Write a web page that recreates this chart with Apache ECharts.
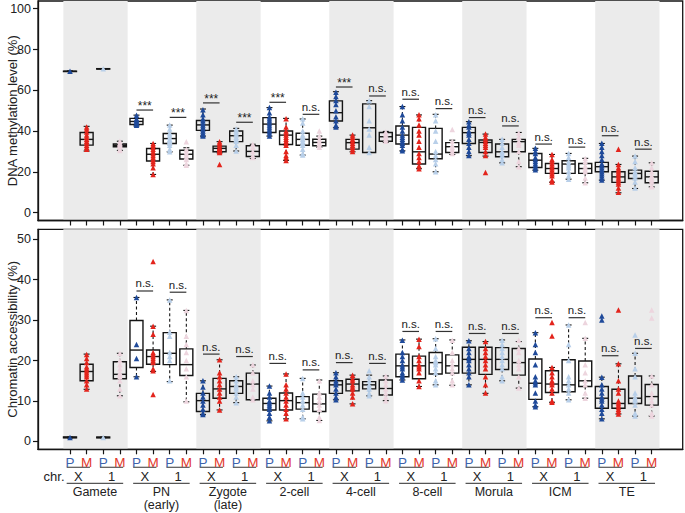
<!DOCTYPE html>
<html><head><meta charset="utf-8">
<script src="https://cdn.jsdelivr.net/npm/echarts@6/dist/echarts.min.js"></script>
<style>html,body{margin:0;padding:0;background:#fff}#c{width:685px;height:513px}</style>
</head><body><div id="c"></div>
<script>
// ---------------- DATA ----------------
const stages = ['Gamete', 'PN\n(early)', 'Zygote\n(late)', '2-cell', '4-cell', '8-cell', 'Morula', 'ICM', 'TE'];
const chromosomes = ['X', '1'];
const parents = ['P', 'M'];
const shadedStages = [0, 2, 4, 6, 8];
const methTicks = [0, 20, 40, 60, 80, 100];
const accTicks = [0, 10, 20, 30, 40, 50];

// box stats [min, Q1, median, Q3, max]; order: stage -> chr (X, 1) -> parent (P, M)
const methBox = [
  [69.2, 69.2, 69.3, 69.4, 69.5], [30.2, 33.1, 35.9, 39.3, 42.3], [70.4, 70.4, 70.5, 70.6, 70.6], [30.5, 32.3, 33.0, 33.6, 35.0],
  [42.5, 43.2, 44.7, 46.2, 47.8], [18.7, 25.3, 28.6, 31.4, 33.9], [29.8, 33.9, 36.3, 38.8, 42.9], [23.2, 26.3, 28.6, 30.6, 31.8],
  [37.5, 40.3, 43.0, 45.2, 50.8], [29.3, 29.8, 31.5, 32.6, 34.8], [30.2, 34.8, 37.7, 40.0, 41.3], [26.5, 27.5, 30.0, 32.8, 33.5],
  [37.5, 39.3, 43.4, 46.6, 51.5], [25.6, 33.4, 38.0, 40.0, 46.2], [28.2, 33.0, 35.9, 38.9, 45.9], [32.0, 32.8, 34.4, 36.0, 37.5],
  [41.6, 44.9, 49.0, 54.8, 59.3], [29.8, 31.1, 34.3, 35.9, 38.0], [29.5, 29.5, 41.6, 53.3, 54.9], [34.5, 35.0, 37.2, 39.3, 39.8],
  [30.3, 33.6, 38.0, 42.5, 52.0], [21.5, 23.8, 29.8, 41.8, 47.9], [20.0, 26.4, 28.7, 41.3, 48.2], [28.5, 29.5, 32.3, 34.3, 35.5],
  [27.9, 33.9, 39.2, 41.8, 44.6], [27.7, 29.5, 34.4, 35.6, 38.5], [24.4, 27.4, 29.8, 33.6, 35.9], [22.5, 29.8, 34.8, 35.9, 39.3],
  [20.8, 22.1, 25.7, 29.0, 31.5], [14.9, 19.2, 21.6, 24.1, 28.5], [16.4, 19.2, 23.8, 25.4, 29.0], [14.6, 19.2, 21.6, 24.1, 26.6],
  [15.9, 20.0, 22.5, 24.6, 33.9], [9.7, 14.8, 17.5, 20.0, 23.6], [11.8, 16.7, 19.2, 20.8, 27.7], [12.6, 14.6, 17.5, 20.3, 24.4]
];
const methPts = [
  [69.3], [42, 41, 39.5, 38, 37, 36, 35, 34, 33, 32, 31], [70.5], [35, 34, 33.5, 33, 32.5, 31, 30.5],
  [47.8, 46, 45.5, 45, 44.5, 44, 43.5, 42.8], [33.9, 33, 32, 31, 30, 29, 28, 27, 26, 25, 24, 22, 18.7], [42.9, 41, 39, 38, 37, 36, 35, 34, 33, 31, 29.8], [34.7, 31, 30, 29, 28, 27, 26, 24, 23.2],
  [50.5, 48, 46, 45, 44, 43, 42, 41, 40, 39, 38, 37.5], [34.8, 34, 33, 32, 31.5, 31, 30.5, 30, 29.5, 23.6], [41, 40, 39, 38, 37, 36, 35, 33, 30.2], [33.5, 32, 30, 28, 27],
  [51.5, 49, 47, 46, 45, 44, 43, 42, 41, 40, 39, 37.5], [46, 42, 40, 39, 38, 37, 36, 35, 34, 33, 30, 28, 27, 25.6], [46, 44, 40, 38, 37, 36, 35, 34, 33, 31, 29, 28.2], [40, 37.5, 36, 35, 34, 33, 32],
  [59, 57, 55, 53, 50, 47, 45, 43, 42], [38, 37, 36, 35, 34, 33, 32, 31, 30], [54.9, 52, 45, 41, 38, 32, 29.5], [39.5, 38.5, 37.5, 37, 36, 35],
  [52, 48, 45, 42, 40, 38, 37, 36, 35, 34, 33, 31, 30.3], [48, 46, 43, 40, 38, 35, 32, 29, 27, 25, 23, 21.5], [48, 45, 40, 35, 30, 28, 26, 24, 20], [40.8, 35, 33, 32, 31, 30, 29],
  [44.6, 43, 42, 40, 39, 38, 36, 34, 32, 30, 28], [38.5, 37, 36, 35, 34, 33, 32, 30, 28, 19.7], [36, 34, 32, 30, 29, 28, 26, 24.4], [39, 37, 35, 34, 33, 30, 25, 22.5],
  [31.5, 30, 29, 27, 26, 25, 24, 23, 22, 21], [28.5, 26, 25, 24, 23, 22, 21, 20, 19, 18, 16, 15], [29, 27, 25, 24, 23, 22, 20, 18, 16.4], [26.5, 25, 23, 22, 21, 20, 17, 14.6],
  [34, 32, 30, 28, 26, 24, 23, 22, 21, 20, 19, 18, 17, 16], [31, 23.6, 22, 21, 20, 19, 18, 17, 16, 15, 14, 12, 10], [27.7, 25, 22, 20, 19, 18, 17, 15, 12], [24.4, 22, 20, 18, 17, 16, 15, 13, 12.6]
];
// significance per stage x chr: label and bar height
const methSigLabels = ['', '', '***', '***', '***', '***', '***', 'n.s.', '***', 'n.s.', 'n.s.', 'n.s.', 'n.s.', 'n.s.', 'n.s.', 'n.s.', 'n.s.', 'n.s.'];
const methSigY = [0, 0, 50.3, 46.7, 53.8, 44.3, 54.1, 48.2, 61.6, 57.2, 55.6, 51.0, 46.6, 42.5, 33.6, 32.1, 37.7, 31.1];

const accBox = [
  [0.9, 0.9, 1.0, 1.1, 1.1], [12.9, 15.0, 17.3, 19.1, 21.6], [0.9, 0.9, 1.0, 1.1, 1.1], [11.3, 15.5, 16.6, 19.7, 21.8],
  [16.0, 18.3, 22.6, 29.9, 35.6], [17.3, 19.1, 21.0, 22.6, 28.5], [14.8, 19.0, 21.8, 26.9, 35.0], [9.8, 16.3, 19.0, 22.9, 32.4],
  [6.7, 7.4, 10.1, 11.9, 15.0], [7.8, 10.7, 13.0, 15.6, 20.2], [9.6, 11.9, 13.6, 15.0, 16.0], [10.3, 10.3, 14.2, 16.9, 18.9],
  [5.1, 7.8, 9.4, 10.7, 13.7], [5.6, 7.8, 10.1, 12.0, 16.7], [5.6, 8.0, 9.6, 11.1, 15.6], [5.2, 7.4, 9.3, 11.7, 15.2],
  [10.3, 11.9, 14.0, 15.0, 17.0], [9.3, 12.5, 14.2, 15.4, 16.4], [11.3, 13.0, 14.0, 14.8, 16.4], [10.1, 11.5, 13.1, 15.2, 16.2],
  [15.2, 16.0, 18.7, 21.6, 25.1], [13.6, 15.5, 18.7, 21.1, 25.3], [14.0, 16.7, 19.5, 22.0, 25.4], [13.9, 16.9, 18.7, 21.4, 25.1],
  [14.0, 16.9, 20.3, 23.3, 24.9], [11.9, 16.6, 20.3, 23.3, 24.7], [15.0, 17.8, 20.3, 23.2, 25.1], [13.2, 16.4, 19.5, 23.0, 24.7],
  [8.6, 10.4, 14.4, 20.4, 26.9], [9.7, 12.1, 14.2, 17.5, 18.3], [10.3, 12.3, 14.0, 20.2, 28.8], [10.7, 13.6, 15.0, 19.9, 25.5],
  [5.6, 8.2, 10.7, 13.6, 15.9], [6.8, 8.2, 9.4, 12.9, 19.2], [6.3, 9.4, 10.7, 16.2, 21.8], [6.3, 9.0, 11.1, 14.1, 16.2]
];
const accPts = [
  [1.0], [21.5, 20.5, 19.5, 18.5, 18, 17.5, 17, 16.5, 16, 15, 14, 13], [1.0], [21.8, 20, 19, 18, 17, 16.5, 16, 15, 13, 11.3],
  [35.6, 24, 20.5, 16], [44.5, 28.5, 26.5, 22, 21.5, 21, 20.5, 20, 19.5, 18, 17.5, 11.6], [35, 27, 26, 22, 21, 20, 15], [32.4, 26, 24, 22, 20, 18, 16, 10],
  [15, 13.5, 12, 11, 10, 9, 8, 7, 6.7], [20.2, 17, 16, 15, 14, 13, 12, 11, 10, 7.8], [16, 15, 14, 13.5, 13, 12, 11, 9.6], [19, 17, 15, 14, 13, 11, 10.3],
  [13.7, 12, 11, 10, 9.5, 9, 8.5, 8, 7, 6, 5.1], [16.7, 14, 13, 12, 11, 10, 9, 8, 7, 5.6], [15.6, 12, 11, 10, 9, 8, 6, 5.6], [15, 12, 11, 10, 9, 8, 6, 5.2],
  [17, 16, 15, 14.5, 14, 13, 12, 11, 10.3], [16.4, 15.5, 15, 14, 13.5, 13, 12, 11, 9.3], [17.5, 16, 15, 14, 13.5, 13, 12, 11.3], [16.2, 15, 14, 13, 12, 11, 10.1],
  [25, 22, 21, 20, 19, 18.5, 18, 17, 16.5, 16, 15.2], [25.3, 23.5, 21, 20, 19, 18.5, 18, 17, 15, 13.6], [25.4, 23, 21, 20, 19.5, 19, 18, 17, 15, 14], [25, 22, 20, 19, 18, 17, 15, 14],
  [24.9, 23, 22, 21, 20.5, 20, 19, 18, 17, 16, 14], [24.7, 23, 22, 21, 20, 19, 18, 16, 14, 12], [25, 24, 23, 22, 21, 20, 19, 18, 16, 15], [25, 23, 22, 20, 19, 18, 16, 13.2],
  [26.9, 24, 22, 19, 16, 15, 14.5, 14, 12, 10, 9, 8.6], [29.4, 26.1, 18.3, 17, 16, 15, 14.5, 14, 13, 12, 10, 9.7], [28.8, 24, 20, 16, 15, 14, 13, 12, 10.3], [29.4, 25.5, 19, 17, 15, 14, 12, 10.7],
  [31, 30, 15.9, 14, 13, 12, 11, 10.5, 10, 9, 8, 7, 5.6], [32.5, 19.2, 15, 13, 12, 10, 9.5, 9, 8.5, 8, 7.5, 6.8], [26.3, 21.8, 18, 16, 12, 11, 10.5, 10, 9, 7, 6.3], [32.5, 30.5, 16.2, 14, 12, 11, 10, 9, 7, 6.3]
];
const accSigLabels = ['', '', 'n.s.', 'n.s.', 'n.s.', 'n.s.', 'n.s.', 'n.s.', 'n.s.', 'n.s.', 'n.s.', 'n.s.', 'n.s.', 'n.s.', 'n.s.', 'n.s.', 'n.s.', 'n.s.'];
const accSigY = [0, 0, 37.2, 36.9, 21.6, 21.0, 19.3, 17.7, 19.5, 19.3, 27.2, 27.2, 26.7, 26.7, 30.6, 30.6, 21.2, 23.0];

// ---------------- STYLE / LAYOUT ----------------
const FONT = 'Liberation Sans, Arial, sans-serif';
const INK = '#151515';
const pointColors = ['#1f4a9a', '#e3241c', '#b8cfe9', '#edd5de'];
const labelColors = { P: '#3d63ad', M: '#e2372b' };
const XMIN = -1.925, XMAX = 36.865;
const nGroups = stages.length * 4;
const groupTicks = Array.from({ length: nGroups }, (_, i) => i);
const chrLabelPos = [-0.96].concat(Array.from({ length: stages.length * 2 }, (_, j) => j * 2 + 0.5));
const stagePos = stages.map((_, s) => s * 4 + 1.5);

const chart = echarts.init(document.getElementById('c'), null, { renderer: 'svg' });

function bandRender(params, api) {
  const cs = params.coordSys;
  const x0 = api.coord([api.value(0), 0])[0];
  const x1 = api.coord([api.value(1), 0])[0];
  return { type: 'rect', shape: { x: x0, y: cs.y, width: x1 - x0, height: cs.height }, style: { fill: '#ebebeb' } };
}
function boxRender(params, api) {
  const x = api.value(0);
  const lo = api.coord([x, api.value(1)]), q1 = api.coord([x, api.value(2)]), md = api.coord([x, api.value(3)]);
  const q3 = api.coord([x, api.value(4)]), hi = api.coord([x, api.value(5)]);
  const cx = lo[0], hw = 6.5, cw = 3;
  const h = Math.max(q1[1] - q3[1], 0.3);
  return { type: 'group', children: [
    { type: 'line', shape: { x1: cx, y1: q3[1], x2: cx, y2: hi[1] }, style: { stroke: INK, lineWidth: 1.1, lineDash: [3, 2.5] } },
    { type: 'line', shape: { x1: cx, y1: q1[1], x2: cx, y2: lo[1] }, style: { stroke: INK, lineWidth: 1.1, lineDash: [3, 2.5] } },
    { type: 'line', shape: { x1: cx - cw, y1: hi[1], x2: cx + cw, y2: hi[1] }, style: { stroke: INK, lineWidth: 1.1 } },
    { type: 'line', shape: { x1: cx - cw, y1: lo[1], x2: cx + cw, y2: lo[1] }, style: { stroke: INK, lineWidth: 1.1 } },
    { type: 'rect', shape: { x: cx - hw, y: q3[1], width: 2 * hw, height: h }, style: { fill: 'none', stroke: INK, lineWidth: 1.4 } },
    { type: 'line', shape: { x1: cx - hw, y1: md[1], x2: cx + hw, y2: md[1] }, style: { stroke: INK, lineWidth: 1.4 } }
  ] };
}
function sigRender(labels) {
  return function (params, api) {
    const a = api.coord([api.value(0), api.value(2)]);
    const b = api.coord([api.value(1), api.value(2)]);
    const txt = labels[api.value(3)];
    const star = txt === '***';
    return { type: 'group', children: [
      { type: 'line', shape: { x1: a[0], y1: a[1], x2: b[0], y2: b[1] }, style: { stroke: '#333', lineWidth: 1.2 } },
      { type: 'text', style: { text: txt, x: (a[0] + b[0]) / 2, y: a[1] - (star ? -2 : 1.5), align: 'center', verticalAlign: 'bottom',
        font: (star ? '12px ' : '11.5px ') + FONT, fill: '#222' } }
    ] };
  };
}
function lineRender(params, api) {
  const cs = params.coordSys;
  const x0 = api.coord([api.value(0), 0])[0];
  const x1 = api.coord([api.value(1), 0])[0];
  const y = cs.y + cs.height + (api.value(2) === 0 ? 18 : 34);
  return { type: 'line', shape: { x1: x0, y1: y, x2: x1, y2: y }, style: { stroke: '#555', lineWidth: 1.2 } };
}

const bands = shadedStages.map(s => [s * 4 - 0.4, s * 4 + 3.47]);
const boxData = box => box.map((b, i) => [i].concat(b));
const ptsData = (pts, k) => { const o = []; pts.forEach((arr, i) => { if (i % 4 === k) arr.forEach(v => o.push([i, v])); }); return o; };
const sigData = (labels, ys) => { const o = []; labels.forEach((l, j) => { if (l) o.push([j * 2, j * 2 + 1, ys[j], j]); }); return o; };
const underlines = [];
for (let j = 0; j < stages.length * 2; j++) underlines.push([j * 2 - 0.2, j * 2 + 1.2, 0]);
for (let s = 0; s < stages.length; s++) underlines.push([s * 4 - 0.2, s * 4 + 3.2, 1]);

function panelSeries(g, box, pts, sigL, sigY) {
  const list = [
    { type: 'custom', xAxisIndex: g === 0 ? 0 : 1, yAxisIndex: g, renderItem: bandRender, data: bands, z: 1, silent: true, clip: false },
    { type: 'custom', xAxisIndex: g === 0 ? 0 : 1, yAxisIndex: g, renderItem: boxRender, data: boxData(box), z: 3, silent: true, clip: false }
  ];
  for (let k = 0; k < 4; k++) {
    list.push({ type: 'scatter', xAxisIndex: g === 0 ? 0 : 1, yAxisIndex: g, symbol: 'triangle', symbolSize: 5.5,
      itemStyle: { color: pointColors[k], opacity: 1 }, data: ptsData(pts, k), z: 4, silent: true });
  }
  list.push({ type: 'custom', xAxisIndex: g === 0 ? 0 : 1, yAxisIndex: g, renderItem: sigRender(sigL), data: sigData(sigL, sigY), z: 5, silent: true, clip: false });
  return list;
}

const baseX = { type: 'value', min: XMIN, max: XMAX, position: 'bottom', splitLine: { show: false }, z: 10 };
const yName = { nameLocation: 'middle', nameGap: 19, nameMoveOverlap: false, nameRotate: 90,
  nameTextStyle: { fontSize: 13, color: '#222', fontFamily: FONT } };
const option = {
  animation: false,
  textStyle: { fontFamily: FONT },
  grid: [
    { left: 38, right: 2.3, top: 1, height: 219.5, show: true, borderColor: INK, borderWidth: 1.3, backgroundColor: 'transparent', outerBoundsMode: 'none', containLabel: false },
    { left: 38, right: 2.3, top: 229.3, height: 220, show: true, borderColor: INK, borderWidth: 1.3, backgroundColor: 'transparent', outerBoundsMode: 'none', containLabel: false }
  ],
  xAxis: [
    Object.assign({}, baseX, { gridIndex: 0,
      axisLine: { show: true, onZero: false, lineStyle: { color: INK, width: 1.3 } },
      axisTick: { show: true, customValues: groupTicks, length: 5, lineStyle: { color: INK, width: 1.2 } },
      axisLabel: { show: false } }),
    Object.assign({}, baseX, { gridIndex: 1,
      axisLine: { show: true, onZero: false, lineStyle: { color: INK, width: 1.3 } },
      axisTick: { show: true, customValues: groupTicks, length: 5, lineStyle: { color: INK, width: 1.2 } },
      axisLabel: { show: true, customValues: groupTicks, margin: 5.5, lineHeight: 15, fontSize: 13.5, fontFamily: FONT,
        formatter: v => (Math.round(v) % 2 === 0 ? '{p|' + parents[0] + '}' : '{m|' + parents[1] + '}'),
        rich: { p: { color: labelColors.P, fontSize: 13.5, lineHeight: 15, fontFamily: FONT }, m: { color: labelColors.M, fontSize: 13.5, lineHeight: 15, fontFamily: FONT } } } }),
    Object.assign({}, baseX, { gridIndex: 1,
      axisLine: { show: false, onZero: false }, axisTick: { show: false },
      axisLabel: { show: true, customValues: chrLabelPos, margin: 20, lineHeight: 14, fontSize: 13, color: '#222', fontFamily: FONT,
        formatter: v => (v < 0 ? 'chr.' : chromosomes[Math.round((v - 0.5) / 2) % 2]) } }),
    Object.assign({}, baseX, { gridIndex: 1,
      axisLine: { show: false, onZero: false }, axisTick: { show: false },
      axisLabel: { show: true, customValues: stagePos, margin: 35.5, lineHeight: 13.5, fontSize: 12.5, color: '#222', fontFamily: FONT,
        formatter: v => stages[Math.round((v - 1.5) / 4)] } })
  ],
  yAxis: [
    Object.assign({ type: 'value', gridIndex: 0, min: -3.9, max: 103.8, position: 'left', z: 10,
      axisLine: { show: true, onZero: false, lineStyle: { color: INK, width: 1.3 } },
      axisTick: { show: true, customValues: methTicks, length: 5, lineStyle: { color: INK, width: 1.2 } },
      axisLabel: { show: true, customValues: methTicks, margin: 7, fontSize: 12.5, color: '#222', fontFamily: FONT },
      splitLine: { show: false }, name: 'DNA methylation level (%)' }, yName),
    Object.assign({ type: 'value', gridIndex: 1, min: -1.93, max: 52.45, position: 'left', z: 10,
      axisLine: { show: true, onZero: false, lineStyle: { color: INK, width: 1.3 } },
      axisTick: { show: true, customValues: accTicks, length: 5, lineStyle: { color: INK, width: 1.2 } },
      axisLabel: { show: true, customValues: accTicks, margin: 7, fontSize: 12.5, color: '#222', fontFamily: FONT },
      splitLine: { show: false }, name: 'Chromatin accessibility (%)' }, yName)
  ],
  series: [].concat(
    panelSeries(0, methBox, methPts, methSigLabels, methSigY),
    panelSeries(1, accBox, accPts, accSigLabels, accSigY),
    [{ type: 'custom', xAxisIndex: 1, yAxisIndex: 1, renderItem: lineRender, data: underlines, z: 5, silent: true, clip: false }]
  )
};
chart.setOption(option);
</script>
</body></html>
